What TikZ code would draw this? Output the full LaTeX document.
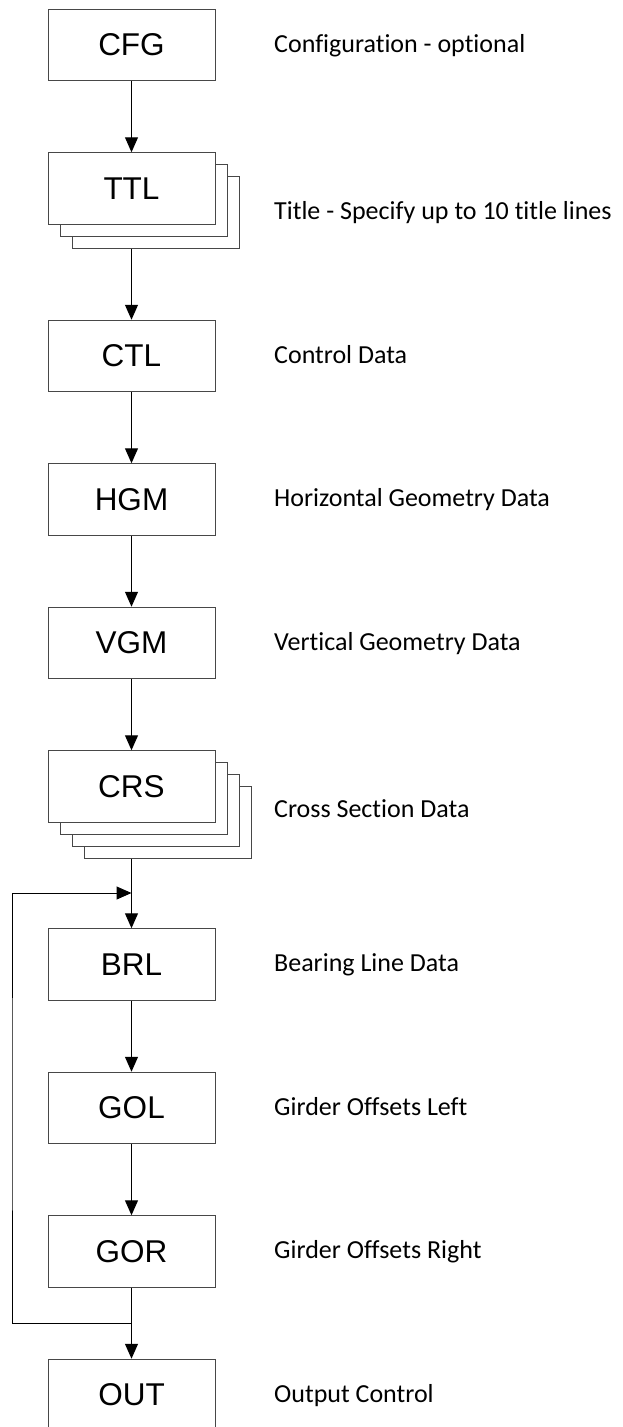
\documentclass[tikz,border=0pt]{standalone}
\usepackage{fontspec}
\setmainfont{Carlito}[RawFeature={-liga}]
\newfontfamily\boxfont{Liberation Sans}
\usetikzlibrary{arrows.meta}
\begin{document}
\begin{tikzpicture}[x=1pt,y=-1pt,
  card/.style={draw=black!72,line width=1pt,fill=white,minimum width=167pt,
    minimum height=71.5pt,inner sep=0pt,font=\boxfont\fontsize{31.5}{31.5}\selectfont},
  note/.style={anchor=base west,inner sep=0pt,font=\fontsize{26}{26}\selectfont},
  flow/.style={draw=black,line width=1pt,-{Triangle[length=15pt,width=13pt]}}]
\useasboundingbox (0,0) rectangle (623,1427);

% record cards, stacked ones drawn back to front
\node[card] (cfg) at (131.5,45) {CFG};

\node[card] (ttl3) at (155.5,212.5) {};
\node[card] (ttl2) at (143.5,200.5) {};
\node[card] (ttl)  at (131.5,188.5) {TTL};

\node[card] (ctl) at (131.5,356) {CTL};
\node[card] (hgm) at (131.5,499.5) {HGM};
\node[card] (vgm) at (131.5,643) {VGM};

\node[card] (crs4) at (167.5,822.5) {};
\node[card] (crs3) at (155.5,810.5) {};
\node[card] (crs2) at (143.5,798.5) {};
\node[card] (crs)  at (131.5,786.5) {CRS};

\node[card] (brl) at (131.5,964.5) {BRL};
\node[card] (gol) at (131.5,1108) {GOL};
\node[card] (gor) at (131.5,1251.5) {GOR};
\node[card] (out) at (131.5,1395) {OUT};

% descriptions
\node[note] (dcfg) at (274,52)   {Configuration - optional};
\node[note] (dttl) at (274,219)  {Title - Specify up to 10 title lines};
\node[note] (dctl) at (274,363.3) {Control Data};
\node[note] (dhgm) at (274,506.8) {Horizontal Geometry Data};
\node[note] (dvgm) at (274,650.3) {Vertical Geometry Data};
\node[note] (dcrs) at (274,817)  {Cross Section Data};
\node[note] (dbrl) at (274,971.8) {Bearing Line Data};
\node[note] (dgol) at (274,1115.3) {Girder Offsets Left};
\node[note] (dgor) at (274,1258.8) {Girder Offsets Right};
\node[note] (dout) at (274,1402.3) {Output Control};

% sequence
\draw[flow] (cfg.south) -- (ttl.north);
\draw[flow] (ttl.center |- ttl3.south) -- (ctl.north);
\draw[flow] (ctl.south) -- (hgm.north);
\draw[flow] (hgm.south) -- (vgm.north);
\draw[flow] (vgm.south) -- (crs.north);
\draw[flow] (crs.center |- crs4.south) -- (brl.north);
\draw[flow] (brl.south) -- (gol.north);
\draw[flow] (gol.south) -- (gor.north);
\draw[flow] (gor.south) -- (out.north);

% repeat loop back to the bearing line record
\coordinate (loopout) at (131.5,1323);
\coordinate (loopin)  at (131.5,893);
\coordinate (loopside) at (12,1100);
\draw[flow] (loopout) -| (loopside) |- (loopin);
\end{tikzpicture}
\end{document}
